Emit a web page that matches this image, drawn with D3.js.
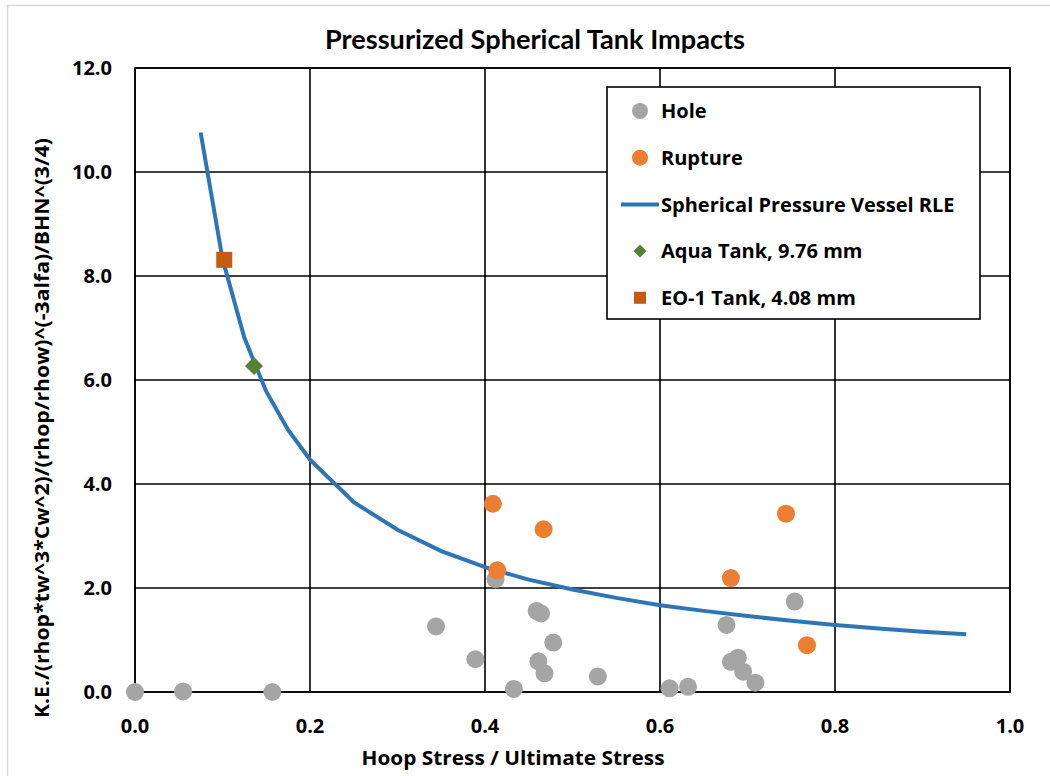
<!DOCTYPE html>
<meta charset="utf-8">
<style>
  body { margin: 0; background: #fff; }
  text { font-family: "Open Sans", sans-serif; fill: #000; }
  .title { font-family: Lato, sans-serif; font-size: 26px; font-weight: 700; text-anchor: middle; }
  .tick-label { font-size: 20px; font-weight: 700; }
  .axis-title { font-size: 20px; font-weight: 700; text-anchor: middle; }
  .grid line, .frame { stroke: #000; stroke-width: 1.6px; fill: none; }
  .legend-label { font-size: 20px; font-weight: 700; }
</style>
<body>
<div id="vis"></div>
<script src="https://cdn.jsdelivr.net/npm/d3@7"></script>
<script>

const width = 1050,
    height = 776;

// Hole: [hoop stress ratio, normalised K.E.]
const holeX = [0.0, 0.055, 0.157, 0.344, 0.389, 0.412, 0.433, 0.459, 0.464, 0.478, 0.461, 0.468, 0.529, 0.611, 0.632, 0.676, 0.689, 0.681, 0.695, 0.709, 0.754];
const holeY = [0.0, 0.01, 0.0, 1.26, 0.63, 2.17, 0.06, 1.56, 1.51, 0.95, 0.59, 0.36, 0.30, 0.07, 0.10, 1.29, 0.66, 0.58, 0.39, 0.18, 1.74];

const ruptureX = [0.409, 0.467, 0.414, 0.681, 0.744, 0.768];
const ruptureY = [3.62, 3.13, 2.34, 2.19, 3.43, 0.90];

// RLE curve
const rleX = [0.075, 0.1, 0.125, 0.15, 0.175, 0.2, 0.25, 0.3, 0.35, 0.4, 0.45, 0.5, 0.55, 0.6, 0.65, 0.7, 0.75, 0.8, 0.85, 0.9, 0.95];
const rleY = [10.76, 8.33, 6.81, 5.78, 5.04, 4.47, 3.65, 3.12, 2.71, 2.40, 2.16, 1.97, 1.81, 1.67, 1.56, 1.46, 1.37, 1.29, 1.22, 1.16, 1.11];

const aqua = [0.136, 6.27];
const eo1 = [0.102, 8.31];

const xTicks = [0, 0.2, 0.4, 0.6, 0.8, 1.0];
const yTicks = [0, 2, 4, 6, 8, 10, 12];

const legendItems = ['Hole', 'Rupture', 'Spherical Pressure Vessel RLE', 'Aqua Tank, 9.76 mm', 'EO-1 Tank, 4.08 mm'];

const grey = '#a5a5a5',
    orange = '#ed7d31',
    blue = '#2e75b6',
    green = '#548235',
    rust = '#c55a11';

let margin = {l: 135, r: 40, t: 68, b: 84};
let plotW = width - margin.l - margin.r;
let plotH = height - margin.t - margin.b;

let x = d3.scaleLinear().domain([0, 1]).range([0, plotW]);
let y = d3.scaleLinear().domain([0, 12]).range([plotH, 0]);
const fmt = d3.format('.1f');

const diamond = (h) => 'M0,' + (-h) + 'L' + h + ',0L0,' + h + 'L' + (-h) + ',0Z';

let svg = d3.select('#vis').append('svg')
    .attr('width', width)
    .attr('height', height);

// light outer chart border
svg.append('rect')
    .attr('x', 7.5).attr('y', 5.5)
    .attr('width', width + 20).attr('height', height + 20)
    .style('fill', 'none').style('stroke', '#d9d9d9').style('stroke-width', 1.5);

svg.append('text')
    .attr('class', 'title')
    .attr('x', 535)
    .attr('y', 49)
    .attr('textLength', 420)
    .attr('lengthAdjust', 'spacingAndGlyphs')
    .text('Pressurized Spherical Tank Impacts');

let g = svg.append('g')
    .attr('transform', 'translate(' + [margin.l, margin.t] + ')');

let grid = g.append('g').attr('class', 'grid');
grid.selectAll('.gx').data(xTicks).enter().append('line')
    .attr('x1', d => x(d)).attr('x2', d => x(d))
    .attr('y1', 0).attr('y2', plotH);
grid.selectAll('.gy').data(yTicks).enter().append('line')
    .attr('x1', 0).attr('x2', plotW)
    .attr('y1', d => y(d)).attr('y2', d => y(d));
g.append('rect').attr('class', 'frame')
    .attr('width', plotW).attr('height', plotH);

g.selectAll('.xl').data(xTicks).enter().append('text')
    .attr('class', 'tick-label')
    .attr('x', d => x(d))
    .attr('y', plotH + 41)
    .style('text-anchor', 'middle')
    .text(fmt);
g.selectAll('.yl').data(yTicks).enter().append('text')
    .attr('class', 'tick-label')
    .attr('x', -23)
    .attr('y', d => y(d))
    .attr('dy', '0.36em')
    .style('text-anchor', 'end')
    .text(fmt);

svg.append('text')
    .attr('class', 'axis-title')
    .attr('x', 513)
    .attr('y', 765)
    .attr('textLength', 303)
    .attr('lengthAdjust', 'spacingAndGlyphs')
    .text('Hoop Stress / Ultimate Stress');
svg.append('text')
    .attr('class', 'axis-title')
    .attr('transform', 'translate(49,428) rotate(-90)')
    .attr('textLength', 580)
    .attr('lengthAdjust', 'spacingAndGlyphs')
    .text('K.E./(rhop*tw^3*Cw^2)/(rhop/rhow)^(-3alfa)/BHN^(3/4)');

// RLE line
let line = d3.line().x(d => x(d[0])).y(d => y(d[1]));
g.append('path')
    .datum(d3.zip(rleX, rleY))
    .attr('d', line)
    .style('fill', 'none')
    .style('stroke', blue)
    .style('stroke-width', 4);

g.selectAll('.hole').data(d3.zip(holeX, holeY)).enter().append('circle')
    .attr('class', 'hole')
    .attr('cx', d => x(d[0])).attr('cy', d => y(d[1]))
    .attr('r', 9)
    .style('fill', grey);
g.selectAll('.rupture').data(d3.zip(ruptureX, ruptureY)).enter().append('circle')
    .attr('class', 'rupture')
    .attr('cx', d => x(d[0])).attr('cy', d => y(d[1]))
    .attr('r', 9)
    .style('fill', orange);

g.append('path')
    .attr('d', diamond(9))
    .attr('transform', 'translate(' + [x(aqua[0]), y(aqua[1])] + ')')
    .style('fill', green);
g.append('rect')
    .attr('x', x(eo1[0]) - 8).attr('y', y(eo1[1]) - 8)
    .attr('width', 16).attr('height', 16)
    .style('fill', rust);

// legend
let leg = svg.append('g').attr('transform', 'translate(607,87)');
leg.append('rect')
    .attr('width', 373).attr('height', 232)
    .style('fill', '#fff').style('stroke', '#000').style('stroke-width', 1.6);
let rows = leg.selectAll('.legend-row').data(legendItems).enter().append('g')
    .attr('class', 'legend-row')
    .attr('transform', (d, i) => 'translate(0,' + (24 + i * 46.7) + ')');
rows.append('text')
    .attr('class', 'legend-label')
    .attr('x', 54)
    .attr('dy', '0.36em')
    .text(d => d);
rows.each(function(d, i) {
  let r = d3.select(this);
  if (i === 0 || i === 1) {
    r.append('circle').attr('cx', 33).attr('r', 8).style('fill', i === 0 ? grey : orange);
  } else if (i === 2) {
    r.append('line').attr('x1', 14).attr('x2', 52)
      .style('stroke', blue).style('stroke-width', 4);
  } else if (i === 3) {
    r.append('path').attr('d', diamond(6.5))
      .attr('transform', 'translate(33,0)').style('fill', green);
  } else {
    r.append('rect').attr('x', 27).attr('y', -6).attr('width', 12).attr('height', 12)
      .style('fill', rust);
  }
});

</script>
</body>
